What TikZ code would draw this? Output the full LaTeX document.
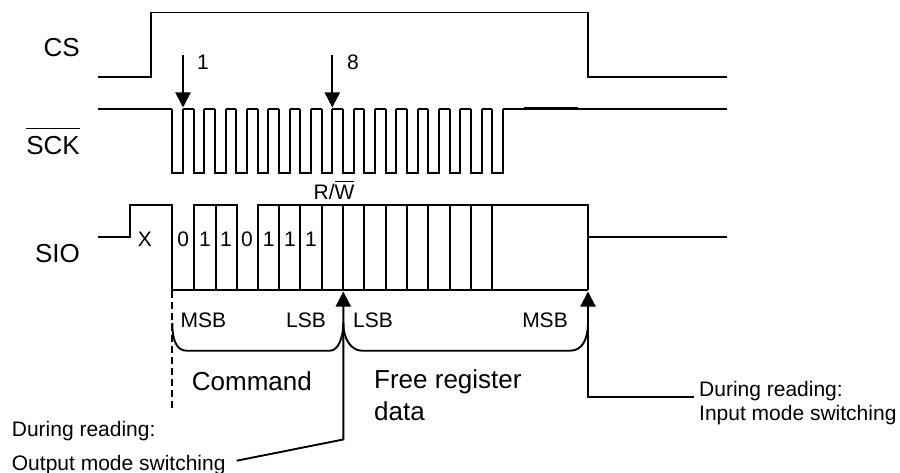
\documentclass[tikz,border=0pt]{standalone}
\usepackage{fontspec}
\setmainfont{Liberation Sans}
\usepackage{tikz}
\usetikzlibrary{arrows.meta}
\newcommand{\barred}[2][5pt]{\vbox{\hrule height 1.4pt \kern #1 \hbox{#2}}}

\begin{document}
\begin{tikzpicture}[x=1pt, y=-1pt,
        wave/.style={draw=black, line width=1.9pt, line join=miter},
        arrow/.style={draw=black, line width=1.9pt, -{Triangle[width=15pt, length=15pt]}},
        signal/.style={anchor=base west, inner sep=0pt, font=\fontsize{26}{26}\selectfont},
        small/.style={anchor=base, inner sep=0pt, font=\fontsize{21}{21}\selectfont},
        note/.style={anchor=base west, inner sep=0pt, font=\fontsize{21}{21}\selectfont}
    ]
        \useasboundingbox (0,0) rectangle (900,473);

        % Signal names
        \node [signal, anchor=base east] (cs_name) at (80,56.5) {CS};
        \node [signal, anchor=base east] (sck_name) at (80,154.3) {\barred[7pt]{SCK}};
        \node [signal, anchor=base east] (sio_name) at (80,263) {SIO};

        % CS
        \draw [wave] (98,76.7) -- (151,76.7) -- (151,12.5) -- (588,12.5) -- (588,76.7) -- (727,76.7);

        % SCK
        \draw [wave] (98,108.7) -- (172.3,108.7);
        \foreach \k in {0,...,15} {
            \draw [wave] ({172.3+21.33*\k},108.7) -- ({172.3+21.33*\k},172.7) -- ({183+21.33*\k},172.7) -- ({183+21.33*\k},108.7);
        }
        \foreach \k in {0,...,14} {
            \draw [wave] ({183+21.33*\k},108.7) -- ({193.7+21.33*\k},108.7);
        }
        \draw [wave] (503.3,108.7) -- (727,108.7);
        \draw [wave, line width=2.8pt] (524,108.7) -- (578,108.7);

        \coordinate (clk_one) at (183,107.5);
        \coordinate (clk_eight) at (332.3,107.5);
        \coordinate (clk_one_top) at (183,55);
        \coordinate (clk_eight_top) at (332.3,55);
        \draw [arrow] (clk_one_top) -- (clk_one);
        \draw [arrow] (clk_eight_top) -- (clk_eight);
        \node [small] (one) at (203,70) {1};
        \node [small] (eight) at (353,70) {8};

        % SIO
        \draw [wave] (98,236.7) -- (130,236.7) -- (130,204.7) -- (172.3,204.7) -- (172.3,290) -- (588,290);
        \draw [wave] (194.3,290) -- (194.3,204.7) -- (236.7,204.7) -- (236.7,290);
        \draw [wave] (215.7,204.7) -- (215.7,290);
        \draw [wave] (257.7,290) -- (257.7,204.7) -- (588,204.7) -- (588,290);
        \foreach \x in {279,300.3,321.7,343.3,364.3,385.7,407,428.3,449.7,471,492} {
            \draw [wave] (\x,204.7) -- (\x,290);
        }
        \draw [wave] (588,236.7) -- (727,236.7);

        \node [small] (x_bit) at (145,247) {X};
        \foreach \x/\b [count=\i] in {183.3/0,205/1,226/1,247/0,268.7/1,290/1,311/1} {
            \node [small] (bit\i) at (\x,246.5) {\b};
        }
        \node [small] (rw) at (334,200) {R/\barred[3.5pt]{W}};

        % Brackets
        \draw [wave, dashed, dash pattern=on 7pt off 4pt] (172.3,291) -- (172.3,408);
        \draw [wave] (172.3,323) .. controls (172.3,343) and (178,350.7) .. (186.7,350.7) -- (330,350.7) .. controls (338,350.7) and (343.3,338) .. (343.3,323);
        \draw [wave] (343.3,323) .. controls (343.3,340) and (352,350.7) .. (361.7,350.7) -- (570,350.7) .. controls (582,350.7) and (588,340) .. (588,322);
        \node [small] (cmd_msb) at (203.5,327) {MSB};
        \node [small] (cmd_lsb) at (306,327) {LSB};
        \node [small] (reg_lsb) at (373,327) {LSB};
        \node [small] (reg_msb) at (545,327) {MSB};
        \node [signal] (cmd) at (191.7,390.7) {Command};
        \node [signal] (reg) at (374,388) {Free register};
        \node [signal] (reg2) at (374,420) {data};

        % Switching points
        \coordinate (out_tip) at (343.3,291.5);
        \coordinate (out_bend) at (343.3,439.5);
        \coordinate (out_end) at (236.7,460.7);
        \coordinate (in_tip) at (588,291.5);
        \coordinate (in_bend) at (588,396.7);
        \coordinate (in_end) at (694,396.7);
        \draw [arrow] (out_end) -- (out_bend) -- (out_tip);
        \draw [arrow] (in_end) -- (in_bend) -- (in_tip);
        \node [note] (out_a) at (11.7,436.7) {During reading:};
        \node [note] (out_b) at (11.7,470) {Output mode switching};
        \node [note] (in_a) at (699,396) {During reading:};
        \node [note] (in_b) at (699,420) {Input mode switching};
    \end{tikzpicture}
\end{document}
